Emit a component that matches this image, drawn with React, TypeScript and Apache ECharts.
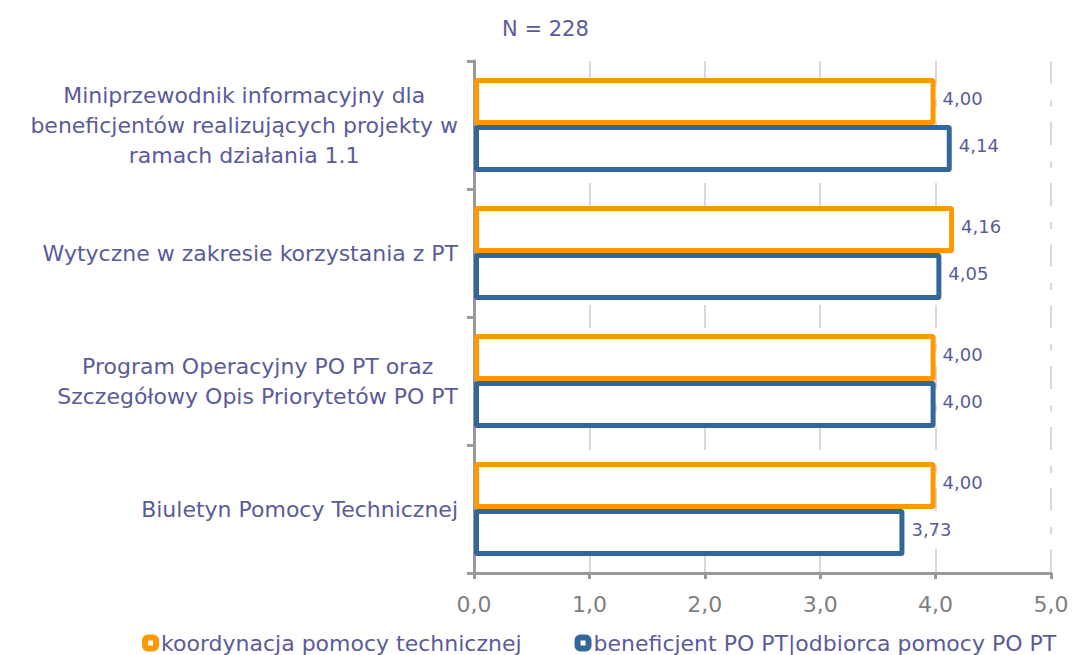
import React, { useEffect, useRef } from "react";
import * as echarts from "echarts";

const categories = [
  "Miniprzewodnik informacyjny dla\nbeneficjentów realizujących projekty w\nramach działania 1.1",
  "Wytyczne w zakresie korzystania z PT",
  "Program Operacyjny PO PT oraz\nSzczegółowy Opis Priorytetów PO PT",
  "Biuletyn Pomocy Technicznej",
];
const seriesNames = ["koordynacja pomocy technicznej", "beneficjent PO PT|odbiorca pomocy PO PT"];
const koordynacja = [4.0, 4.16, 4.0, 4.0];
const beneficjent = [4.14, 4.05, 4.0, 3.73];
const titleText = "N = 228";

const PURPLE = "#5B5B9A";
const GRAY = "#7F7F7F";
const FONT = "'DejaVu Sans', Verdana, sans-serif";

export default function App() {
  const ref = useRef<HTMLDivElement>(null);
  useEffect(() => {
    if (!ref.current) return;
    const chart = echarts.init(ref.current, undefined, { renderer: "svg" });
    const mk = (name: string, data: number[], color: string) => ({
      name,
      type: "bar",
      data,
      barWidth: 47,
      barGap: "0%",
      itemStyle: { color: "#ffffff", borderColor: color, borderWidth: 5, borderRadius: 1 },
      label: {
        show: true,
        position: "right",
        distance: 7,
        offset: [0, -3],
        color: PURPLE,
        fontFamily: FONT,
        fontSize: 18,
        formatter: (p: any) => Number(p.value).toFixed(2).replace(".", ","),
      },
    });
    chart.setOption({
      animation: false,
      backgroundColor: "#ffffff",
      textStyle: { fontFamily: FONT },
      title: {
        text: titleText,
        left: 497,
        top: 13,
        textStyle: { color: PURPLE, fontSize: 21, fontWeight: "normal", fontFamily: FONT },
      },
      legend: {
        top: 627,
        left: 137,
        itemWidth: 11,
        itemHeight: 11,
        itemGap: 53,
        icon: "roundRect",
        itemStyle: { borderWidth: 6 },
        textStyle: { color: PURPLE, fontSize: 22, fontFamily: FONT, padding: [0, 0, 0, 0] },
        data: seriesNames,
      },
      grid: { left: 474, right: 27, top: 61, bottom: 82, containLabel: false },
      xAxis: {
        type: "value",
        min: 0,
        max: 5,
        interval: 1,
        axisLine: { show: true, lineStyle: { color: "#999999", width: 3 } },
        axisTick: { show: true, length: 6, lineStyle: { color: "#999999", width: 3 } },
        axisLabel: {
          color: GRAY,
          fontSize: 22,
          fontFamily: FONT,
          margin: 20,
          formatter: (v: number) => v.toFixed(1).replace(".", ","),
        },
        splitLine: {
          show: true,
          lineStyle: { color: "#D9D9D9", width: 2, type: [23, 16, 7, 15] },
        },
      },
      yAxis: {
        type: "category",
        inverse: true,
        data: categories,
        axisLine: { show: true, lineStyle: { color: "#999999", width: 3 } },
        axisTick: { show: true, length: 7, lineStyle: { color: "#999999", width: 3 } },
        axisLabel: {
          color: PURPLE,
          fontSize: 22,
          fontFamily: FONT,
          lineHeight: 30,
          align: "right",
          margin: 16,
          formatter: (v: string) =>
            v
              .split("\n")
              .map((l) => `{c|${l}}`)
              .join("\n"),
          rich: {
            c: { align: "center", color: PURPLE, fontSize: 22, fontFamily: FONT, lineHeight: 30 },
          },
        },
      },
      series: [mk(seriesNames[0], koordynacja, "#FF9900"), mk(seriesNames[1], beneficjent, "#336699")],
    });
    return () => chart.dispose();
  }, []);
  return <div ref={ref} style={{ width: 1078, height: 655, position: "absolute", left: 0, top: 0 }} />;
}
